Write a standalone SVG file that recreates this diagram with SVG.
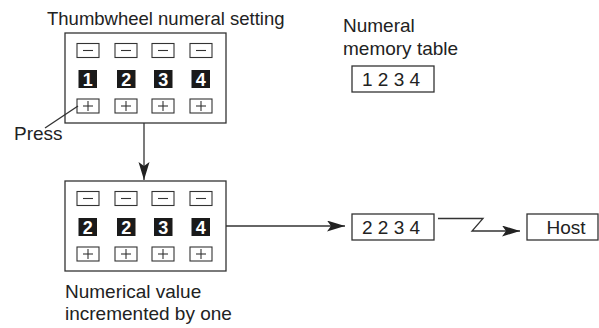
<svg xmlns="http://www.w3.org/2000/svg" width="599" height="328" viewBox="0 0 599 328">
<style>
.t{font-family:"Liberation Sans",Arial,sans-serif;font-size:19px;fill:#222}
.box{fill:#fff;stroke:#333;stroke-width:1.3}
.btn{fill:#fff;stroke:#333;stroke-width:1.1}
.blk{fill:#1a1a1a}
.dig{font-family:"Liberation Sans",Arial,sans-serif;font-weight:bold;font-size:18px;fill:#fff;text-anchor:middle}
.ln{fill:none;stroke:#333;stroke-width:1.3}
</style>
<defs>
<marker id="ah" markerUnits="userSpaceOnUse" markerWidth="19" markerHeight="12" refX="18" refY="5.5" orient="auto">
<path d="M0,0 L18,5.5 L0,11 L4,5.5 z" fill="#222"/>
</marker>
<g id="minusBtn"><rect class="btn" x="0" y="0" width="22" height="14"/><line x1="6" y1="7" x2="16" y2="7" stroke="#333" stroke-width="1.1"/></g>
<g id="plusBtn"><rect class="btn" x="0" y="0" width="22" height="14"/><line x1="6" y1="7" x2="16" y2="7" stroke="#333" stroke-width="1.1"/><line x1="11" y1="2" x2="11" y2="12" stroke="#333" stroke-width="1.1"/></g>
</defs>

<g id="title"><text class="t" x="47" y="25" style="font-size:18.5px">Thumbwheel numeral setting</text></g>

<g id="panel1">
<rect class="box" x="65" y="33" width="161" height="90"/>
<use href="#minusBtn" x="77" y="43.5"/>
<use href="#minusBtn" x="115" y="43.5"/>
<use href="#minusBtn" x="152" y="43.5"/>
<use href="#minusBtn" x="190" y="43.5"/>
<rect class="blk" x="78.5" y="70" width="18.5" height="18"/>
<rect class="blk" x="117" y="70" width="18.5" height="18"/>
<rect class="blk" x="154" y="70" width="18.5" height="18"/>
<rect class="blk" x="191.5" y="70" width="18.5" height="18"/>
<text class="dig" x="87.75" y="85.5">1</text>
<text class="dig" x="126.25" y="85.5">2</text>
<text class="dig" x="163.25" y="85.5">3</text>
<text class="dig" x="200.75" y="85.5">4</text>
<use href="#plusBtn" x="77" y="99"/>
<use href="#plusBtn" x="115" y="99"/>
<use href="#plusBtn" x="152" y="99"/>
<use href="#plusBtn" x="190" y="99"/>
</g>

<g id="press"><text class="t" x="14" y="140">Press</text></g>

<g id="panel2">
<rect class="box" x="65" y="181" width="161" height="90"/>
<use href="#minusBtn" x="77" y="191.5"/>
<use href="#minusBtn" x="115" y="191.5"/>
<use href="#minusBtn" x="152" y="191.5"/>
<use href="#minusBtn" x="190" y="191.5"/>
<rect class="blk" x="78.5" y="218" width="18.5" height="18"/>
<rect class="blk" x="117" y="218" width="18.5" height="18"/>
<rect class="blk" x="154" y="218" width="18.5" height="18"/>
<rect class="blk" x="191.5" y="218" width="18.5" height="18"/>
<text class="dig" x="87.75" y="233.5">2</text>
<text class="dig" x="126.25" y="233.5">2</text>
<text class="dig" x="163.25" y="233.5">3</text>
<text class="dig" x="200.75" y="233.5">4</text>
<use href="#plusBtn" x="77" y="247"/>
<use href="#plusBtn" x="115" y="247"/>
<use href="#plusBtn" x="152" y="247"/>
<use href="#plusBtn" x="190" y="247"/>
</g>

<g id="caption"><text class="t" x="65" y="298">Numerical value</text><text class="t" x="65" y="320">incremented by one</text></g>

<g id="memlabel"><text class="t" x="343" y="32">Numeral</text><text class="t" x="343" y="55">memory table</text></g>

<g id="mem1"><rect class="box" x="352" y="66" width="82" height="26"/><text class="t" x="362" y="86">1 2 3 4</text></g>

<g id="mem2"><rect class="box" x="352" y="214" width="82" height="26"/><text class="t" x="362" y="234">2 2 3 4</text></g>

<g id="host"><rect class="box" x="527" y="214" width="71" height="26"/><text class="t" x="566" y="234" text-anchor="middle">Host</text></g>

<g id="connectors">
<line class="ln" x1="78" y1="106" x2="45" y2="128"/>
<line class="ln" x1="144" y1="123" x2="144" y2="180" marker-end="url(#ah)"/>
<line class="ln" x1="226" y1="226" x2="345" y2="226" marker-end="url(#ah)"/>
<polyline class="ln" points="438,218.5 483,218.5 472,231 520,231" marker-end="url(#ah)"/>
</g>
</svg>
